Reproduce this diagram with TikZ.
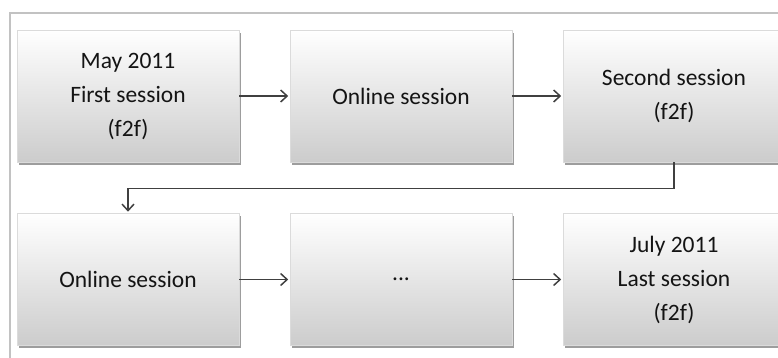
\documentclass[tikz,border=0pt]{standalone}
\usepackage{fontspec}
\setmainfont{Carlito}
\usetikzlibrary{arrows.meta,shadows}
\tikzset{
  sessionbox/.style={
    rectangle, minimum width=222pt, minimum height=132pt, inner sep=0pt,
    draw=black!14, line width=0.6pt,
    top color=white, middle color=white!97!black, bottom color=black!20,
    drop shadow={shadow xshift=1.5pt, shadow yshift=-2.5pt, opacity=0.55, fill=black!70},
    align=center, text=black!92,
    font=\fontsize{23.5}{34}\selectfont
  },
  flowarrow/.style={
    draw=black!75, line width=1.5pt,
    -{Straight Barb[length=6.5pt,width=12pt]}, shorten >=1.5pt
  },
  framebox/.style={draw=black!24, line width=2pt}
}
\begin{document}
\begin{tikzpicture}[x=1pt,y=-1pt]
  \useasboundingbox (0,0) rectangle (778,357);
  \clip (0,0) rectangle (778,357);
  \draw[framebox] (9.5,420) |- (820,12.5);
  \node[sessionbox] (s1) at (128,96) {May 2011\\First session\\(f2f)};
  \node[sessionbox] (s2) at (401,96) {Online session};
  \node[sessionbox] (s3) at (674,96) {Second session\\(f2f)};
  \node[sessionbox] (s4) at (128,279.5) {Online session};
  \node[sessionbox] (s5) at (401,279.5) {...};
  \node[sessionbox] (s6) at (674,279.5) {July 2011\\Last session\\(f2f)};
  \draw[flowarrow] (s1) -- (s2);
  \draw[flowarrow] (s2) -- (s3);
  \draw[flowarrow] (s3.south) -- ++(0,26) -| (s4.north);
  \draw[flowarrow] (s4) -- (s5);
  \draw[flowarrow] (s5) -- (s6);
\end{tikzpicture}
\end{document}
